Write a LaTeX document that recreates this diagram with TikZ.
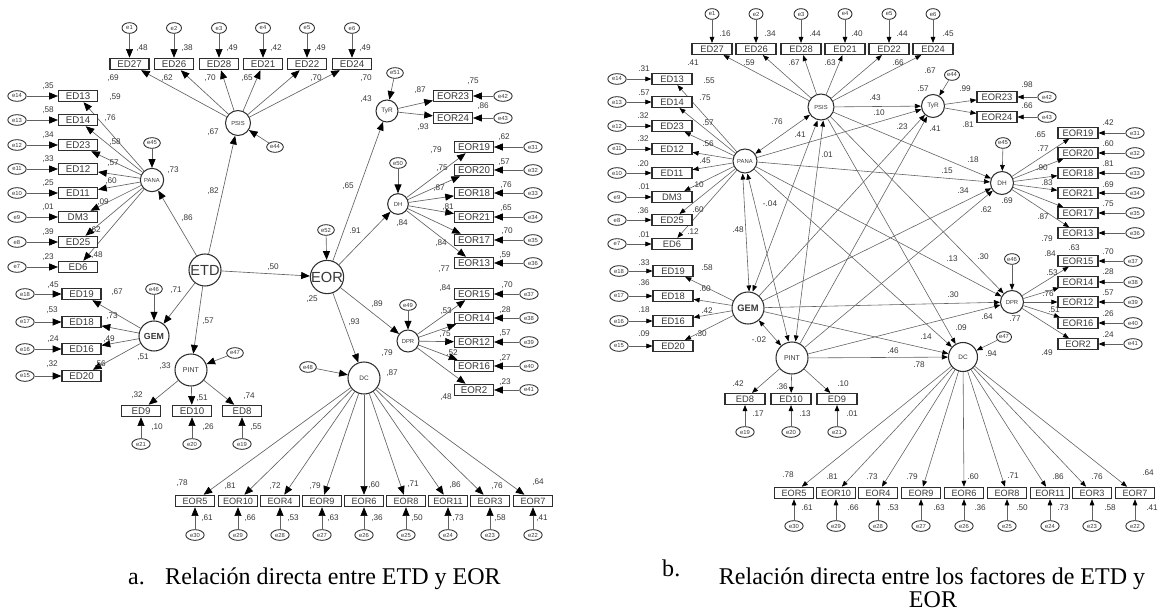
\documentclass[tikz,border=0pt]{standalone}
\usepackage{fontspec}
\setmainfont{Liberation Sans}
\newfontfamily\capfont{Liberation Serif}
\usetikzlibrary{shapes.geometric,arrows.meta}
\pgfdeclarelayer{bg}
\pgfsetlayers{bg,main}
\definecolor{lc}{gray}{0.38}
\definecolor{bc}{gray}{0.18}
\definecolor{tc}{gray}{0.22}
\tikzset{
 obs/.style={draw=bc, line width=1pt, fill=white, minimum width=1.17cm, minimum height=0.34cm, inner sep=0pt, text=tc, font=\fontsize{8.3}{9}\selectfont},
 obsb/.style={obs, minimum width=1.2cm, minimum height=0.33cm, font=\fontsize{8}{9}\selectfont},
 errn/.style={ellipse, draw=bc, line width=0.75pt, fill=white, minimum width=0.5cm, minimum height=0.32cm, inner sep=0pt, text=tc, font=\fontsize{5}{6}\selectfont},
 latn/.style={circle, draw=bc, line width=0.9pt, fill=white, inner sep=0pt, text=tc},
 lab/.style={text=tc, font=\fontsize{7}{8}\selectfont, inner sep=0pt},
 capt/.style={font=\capfont\fontsize{20.5}{24}\selectfont, inner sep=0pt, text=black},
 arrA/.style={draw=lc, line width=0.55pt, -{Triangle[length=0.26cm,width=0.21cm,color=black]}},
 arrB/.style={draw=lc, line width=0.5pt, -{Triangle[length=0.18cm,width=0.14cm,color=black]}},
 covB/.style={draw=lc, line width=0.5pt, {Triangle[length=0.18cm,width=0.14cm,color=black]}-{Triangle[length=0.18cm,width=0.14cm,color=black]}},
}
\begin{document}
\begin{tikzpicture}[x=0.03cm,y=-0.03cm]
\path[use as bounding box] (0,0) rectangle (1170,616);
% ================= PANEL A =================
\node[latn, minimum size=0.75cm, font=\fontsize{5}{6}\selectfont] (aPSIS) at (238,123) {PSIS};
\node[latn, minimum size=0.7cm, font=\fontsize{5}{6}\selectfont] (aPANA) at (152,180) {PANA};
\node[latn, minimum size=0.96cm, font=\fontsize{12.5}{13}\selectfont] (aETD) at (205,270) {ETD};
\node[latn, minimum size=0.9cm, font=\bfseries\fontsize{7.5}{8}\selectfont] (aGEM) at (154,336) {GEM};
\node[latn, minimum size=0.96cm, font=\fontsize{6}{7}\selectfont] (aPINT) at (191,370) {PINT};
\node[latn, minimum size=0.96cm, font=\fontsize{12.5}{13}\selectfont] (aEOR) at (327,277) {EOR};
\node[latn, minimum size=0.66cm, font=\fontsize{5.5}{6}\selectfont] (aTyR) at (387,111) {TyR};
\node[latn, minimum size=0.62cm, font=\fontsize{5}{6}\selectfont] (aDH) at (398,204) {DH};
\node[latn, minimum size=0.66cm, font=\fontsize{5}{6}\selectfont] (aDPR) at (408,341) {DPR};
\node[latn, minimum size=0.96cm, font=\fontsize{5.5}{6}\selectfont] (aDC) at (364,378) {DC};
\foreach \ee/\xx/\yy/\tg in {e44/275/147/PSIS, e45/152/143/PANA, e46/154/289/GEM, e47/235/353/PINT, e48/308/367/DC, e49/408/305/DPR, e50/398/163/DH, e51/395/73/TyR, e52/326/230/EOR} {
  \node[errn] (a\ee) at (\xx,\yy) {\ee};
  \begin{pgfonlayer}{bg}\draw[arrA] (a\ee) -- (a\tg);\end{pgfonlayer}
}
\begin{pgfonlayer}{bg}
\foreach \tg in {PSIS, PANA, GEM, PINT, EOR} \draw[arrA] (aETD) -- (a\tg);
\foreach \tg in {TyR, DH, DPR, DC} \draw[arrA] (aEOR) -- (a\tg);
\end{pgfonlayer}
% indicators
\foreach \nm/\xx/\ee in {ED27/129.5/e1, ED26/174/e2, ED28/219/e3, ED21/263/e4, ED22/307/e5, ED24/352/e6} {
  \node[obs] (a\nm) at (\xx,64) {\nm};
  \node[errn, minimum width=0.45cm] (a\ee) at (\xx,28) {\ee};
  \begin{pgfonlayer}{bg}\draw[arrA] (a\ee) -- (a\nm); \draw[arrA] (aPSIS) -- (a\nm);\end{pgfonlayer}
}
\foreach \nm/\yy/\ee in {ED13/96/e14, ED14/120/e13, ED23/145/e12, ED12/169/e11, ED11/193/e10, DM3/217/e9, ED25/242/e8, ED6/267/e7} {
  \node[obs] (a\nm) at (78,\yy) {\nm};
  \node[errn, minimum width=0.55cm] (a\ee) at (17,\yy) {\ee};
  \begin{pgfonlayer}{bg}\draw[arrA] (a\ee) -- (a\nm); \draw[arrA] (aPANA) -- (a\nm);\end{pgfonlayer}
}
\foreach \nm/\yy/\ee in {ED19/294/e18, ED18/322/e17, ED16/349/e16, ED20/376/e15} {
  \node[obs] (a\nm) at (81.5,\yy) {\nm};
  \node[errn, minimum width=0.55cm] (a\ee) at (25,\yy) {\ee};
  \begin{pgfonlayer}{bg}\draw[arrA] (a\ee) -- (a\nm); \draw[arrA] (aGEM) -- (a\nm);\end{pgfonlayer}
}
\foreach \nm/\xx/\ee in {ED9/141/e21, ED10/192/e20, ED8/242/e19} {
  \node[obs] (a\nm) at (\xx,411) {\nm};
  \node[errn, minimum width=0.55cm] (a\ee) at (\xx,444) {\ee};
  \begin{pgfonlayer}{bg}\draw[arrA] (a\ee) -- (a\nm); \draw[arrA] (aPINT) -- (a\nm);\end{pgfonlayer}
}
\foreach \nm/\yy/\ee in {EOR23/96/e42, EOR24/118/e43} {
  \node[obs] (a\nm) at (453,\yy) {\nm};
  \node[errn, minimum width=0.55cm] (a\ee) at (503,\yy) {\ee};
  \begin{pgfonlayer}{bg}\draw[arrA] (a\ee) -- (a\nm); \draw[arrA] (aTyR) -- (a\nm);\end{pgfonlayer}
}
\foreach \nm/\yy/\ee in {EOR19/147/e31, EOR20/170/e32, EOR18/193/e33, EOR21/217/e34, EOR17/240/e35, EOR13/263/e36} {
  \node[obs] (a\nm) at (474,\yy) {\nm};
  \node[errn, minimum width=0.55cm] (a\ee) at (533,\yy) {\ee};
  \begin{pgfonlayer}{bg}\draw[arrA] (a\ee) -- (a\nm); \draw[arrA] (aDH) -- (a\nm);\end{pgfonlayer}
}
\foreach \nm/\yy/\ee in {EOR15/294/e37, EOR14/318/e38, EOR12/342/e39, EOR16/366/e40, EOR2/390/e41} {
  \node[obs] (a\nm) at (474,\yy) {\nm};
  \node[errn, minimum width=0.55cm] (a\ee) at (529,\yy) {\ee};
  \begin{pgfonlayer}{bg}\draw[arrA] (a\ee) -- (a\nm); \draw[arrA] (aDPR) -- (a\nm);\end{pgfonlayer}
}
\foreach \nm/\xx/\ee in {EOR5/195/e30, EOR10/238/e29, EOR4/280/e28, EOR9/322/e27, EOR6/364/e26, EOR8/406/e25, EOR11/448/e24, EOR3/490/e23, EOR7/533/e22} {
  \node[obs, font=\fontsize{7.8}{9}\selectfont] (a\nm) at (\xx,501) {\nm};
  \node[errn, minimum width=0.55cm] (a\ee) at (\xx,535) {\ee};
  \begin{pgfonlayer}{bg}\draw[arrA] (a\ee) -- (a\nm); \draw[arrA] (aDC) -- (a\nm);\end{pgfonlayer}
}
% labels panel A
\foreach \xx/\yy/\lb [count=\i] in {142/48/48, 187/48/38, 232/48/49, 276/48/42, 320/48/49, 365/48/49,
 113/78/69, 167/78/62, 210/78/70, 247/78/65, 316/78/70, 366/78/70, 213/132/67,
 48/86/35, 48/110/58, 48/135/34, 48/159/33, 48/183/25, 48/207/01, 48/232/39, 48/257/23,
 115/97/59, 110/118/76, 115/142/58, 113/163/57, 111/181/60, 103/202/09, 95/230/62, 97/255/48, 173/170/73,
 187/218/86, 213/191/82, 273/267/50,
 53/285/45, 52/310/53, 53/339/24, 52/364/32, 117/292/67, 112/316/73, 109/339/49, 100/364/56, 143/357/51, 176/290/71,
 208/321/57, 165/366/33, 137/395/32, 202/398/51, 249/396/74, 157/427/10, 208/427/26, 256/427/55,
 366/99/43, 420/90/87, 473/81/75, 483/106/86, 423/127/93, 348/186/65,
 402/223/84, 436/150/79, 442/168/75, 439/188/87, 448/207/81, 441/243/84, 444/269/77,
 504/137/62, 504/162/57, 506/185/76, 506/208/65, 507/231/70, 505/255/59, 312/299/25,
 377/304/89, 387/353/79, 445/288/84, 446/311/53, 445/334/75, 452/353/52, 446/397/48,
 507/285/70, 505/310/28, 505/333/57, 505/358/27, 505/382/23, 354/322/93, 392/373/87,
 182/483/78, 230/486/81, 275/486/72, 315/486/79, 374/485/60, 413/484/71, 455/485/86, 497/486/76, 538/482/64,
 207/518/61, 250/518/66, 293/518/53, 333/518/63, 377/518/36, 417/518/50, 458/518/73, 500/518/58, 542/518/41}
 \node[lab] (aL\i) at (\xx,\yy) {,\lb};
\node[lab] (aL91) at (355,231) {.91};
% caption a
\node[capt, anchor=base west] (capa1) at (128,584) {a.};
\node[capt, anchor=base west] (capa2) at (165,584) {Relación directa entre ETD y EOR};
% ================= PANEL B =================
\node[latn, minimum size=0.78cm, font=\fontsize{5}{6}\selectfont] (bPSIS) at (821,107) {PSIS};
\node[latn, minimum size=0.72cm, font=\fontsize{5}{6}\selectfont] (bPANA) at (745,161) {PANA};
\node[latn, minimum size=0.96cm, font=\bfseries\fontsize{8}{9}\selectfont] (bGEM) at (748,308) {GEM};
\node[latn, minimum size=0.96cm, font=\fontsize{6}{7}\selectfont] (bPINT) at (792,358) {PINT};
\node[latn, minimum size=0.69cm, font=\fontsize{5.5}{6}\selectfont] (bTyR) at (933,106) {TyR};
\node[latn, minimum size=0.69cm, font=\fontsize{5.5}{6}\selectfont] (bDH) at (1002,183) {DH};
\node[latn, minimum size=0.69cm, font=\fontsize{5}{6}\selectfont] (bDPR) at (1012,302) {DPR};
\node[latn, minimum size=0.87cm, font=\fontsize{5.5}{6}\selectfont] (bDC) at (963,357) {DC};
\foreach \ee/\xx/\yy/\tg in {e44/952/75/TyR, e45/1003/143/DH, e46/1012/259/DPR, e47/1004/337/DC} {
  \node[errn, minimum width=0.45cm] (b\ee) at (\xx,\yy) {\ee};
  \begin{pgfonlayer}{bg}\draw[arrB] (b\ee) -- (b\tg);\end{pgfonlayer}
}
\begin{pgfonlayer}{bg}
\foreach \sr in {PSIS, PANA, GEM, PINT} {
  \foreach \tg in {TyR, DH, DPR, DC} \draw[arrB] (b\sr) -- (b\tg);
}
\draw[covB] (bPANA) -- (bPSIS);
\draw[covB] ([xshift=-2pt]bPANA.south) -- ([xshift=1pt]bGEM.north);
\draw[covB] ([xshift=2pt]bPANA.south) -- ([xshift=-3pt]bPINT.north);
\draw[covB] ([xshift=-3pt]bPSIS.south) -- ([xshift=4pt]bGEM.north);
\draw[covB] ([xshift=2pt]bPSIS.south) -- ([xshift=3pt]bPINT.north);
\draw[covB] (bGEM) -- (bPINT);
\end{pgfonlayer}
\foreach \nm/\xx/\ee in {ED27/712/e1, ED26/756/e2, ED28/801/e3, ED21/845/e4, ED22/889/e5, ED24/933/e6} {
  \node[obsb] (b\nm) at (\xx,49) {\nm};
  \node[errn, minimum width=0.42cm] (b\ee) at (\xx,14) {\ee};
  \begin{pgfonlayer}{bg}\draw[arrB] (b\ee) -- (b\nm); \draw[arrB] (bPSIS) -- (b\nm);\end{pgfonlayer}
}
\foreach \nm/\yy/\ee in {ED13/79/e14, ED14/102/e13, ED23/126/e12, ED12/149/e11, ED11/173/e10, DM3/197/e9, ED25/220/e8, ED6/244/e7} {
  \node[obsb] (b\nm) at (672,\yy) {\nm};
  \node[errn, minimum width=0.55cm] (b\ee) at (617,\yy) {\ee};
  \begin{pgfonlayer}{bg}\draw[arrB] (b\ee) -- (b\nm); \draw[arrB] (bPANA) -- (b\nm);\end{pgfonlayer}
}
\foreach \nm/\yy/\ee in {ED19/271/e18, ED18/296/e17, ED16/321/e16, ED20/346/e15} {
  \node[obsb] (b\nm) at (673,\yy) {\nm};
  \node[errn, minimum width=0.55cm] (b\ee) at (619,\yy) {\ee};
  \begin{pgfonlayer}{bg}\draw[arrB] (b\ee) -- (b\nm); \draw[arrB] (bGEM) -- (b\nm);\end{pgfonlayer}
}
\foreach \nm/\xx/\ee in {ED8/745/e19, ED10/791/e20, ED9/837/e21} {
  \node[obsb] (b\nm) at (\xx,399) {\nm};
  \node[errn, minimum width=0.55cm] (b\ee) at (\xx,432) {\ee};
  \begin{pgfonlayer}{bg}\draw[arrB] (b\ee) -- (b\nm); \draw[arrB] (bPINT) -- (b\nm);\end{pgfonlayer}
}
\foreach \nm/\yy/\ee in {EOR23/97/e42, EOR24/117/e43} {
  \node[obsb] (b\nm) at (997,\yy) {\nm};
  \node[errn, minimum width=0.55cm] (b\ee) at (1047,\yy) {\ee};
  \begin{pgfonlayer}{bg}\draw[arrB] (b\ee) -- (b\nm); \draw[arrB] (bTyR) -- (b\nm);\end{pgfonlayer}
}
\foreach \nm/\yy/\ee in {EOR19/133/e31, EOR20/153/e32, EOR18/173/e33, EOR21/193/e34, EOR17/213/e35, EOR13/233/e36} {
  \node[obsb, minimum height=0.31cm] (b\nm) at (1078,\yy) {\nm};
  \node[errn, minimum width=0.55cm] (b\ee) at (1135,\yy) {\ee};
  \begin{pgfonlayer}{bg}\draw[arrB] (b\ee) -- (b\nm); \draw[arrB] (bDH) -- (b\nm);\end{pgfonlayer}
}
\foreach \nm/\yy/\ee in {EOR15/261/e37, EOR14/282/e38, EOR12/302/e39, EOR16/323/e40, EOR2/344/e41} {
  \node[obsb, minimum height=0.31cm] (b\nm) at (1078,\yy) {\nm};
  \node[errn, minimum width=0.55cm] (b\ee) at (1133,\yy) {\ee};
  \begin{pgfonlayer}{bg}\draw[arrB] (b\ee) -- (b\nm); \draw[arrB] (bDPR) -- (b\nm);\end{pgfonlayer}
}
\foreach \nm/\xx/\ee in {EOR5/794/e30, EOR10/836/e29, EOR4/878/e28, EOR9/921/e27, EOR6/964/e26, EOR8/1007/e25, EOR11/1050/e24, EOR3/1092/e23, EOR7/1135/e22} {
  \node[obs, font=\fontsize{7.8}{9}\selectfont] (b\nm) at (\xx,493) {\nm};
  \node[errn, minimum width=0.55cm] (b\ee) at (\xx,526) {\ee};
  \begin{pgfonlayer}{bg}\draw[arrB] (b\ee) -- (b\nm); \draw[arrB] (bDC) -- (b\nm);\end{pgfonlayer}
}
% labels panel B
\foreach \xx/\yy/\lb [count=\i] in {725/34/16, 770/34/34, 815/34/44, 857/34/40, 902/34/44, 948/34/45,
 693/63/41, 749/63/59, 794/63/67, 830/63/63, 898/63/66, 930/71/67,
 644/69/31, 644/93/57, 643/116/32, 643/139/32, 643/164/20, 644/187/01, 643/211/36, 644/235/01,
 709/81/55, 705/98/75, 708/123/57, 708/144/56, 705/161/45, 698/185/10, 698/210/60, 693/232/12,
 644/263/33, 644/283/36, 644/310/18, 644/334/09, 707/268/58, 705/289/60, 707/311/42, 701/334/30,
 738/384/42, 782/387/36, 843/384/10, 758/414/17, 805/414/13, 852/414/01,
 777/122/76, 800/135/41, 827/155/01, 738/230/48,
 923/89/57, 875/98/43, 879/113/10, 902/127/23, 935/129/41, 965/89/99, 1027/85/98, 1027/106/66, 968/125/81,
 1007/201/69, 973/160/18, 947/171/15, 963/191/34, 986/210/62,
 1108/123/42, 1108/144/60, 1108/164/81, 1108/185/69, 1108/204/75,
 1040/135/65, 1043/149/77, 1042/168/90, 1047/183/83, 1043/217/87, 1047/239/79,
 1015/319/77, 952/259/13, 983/257/30, 953/295/30, 987/317/64,
 1074/248/63, 1108/252/70, 1050/254/84, 1052/273/53, 1108/272/28, 1048/294/76, 1108/293/57, 1054/310/51, 1108/314/26, 1108/335/24, 1047/353/49,
 991/354/94, 961/328/09, 926/337/14, 893/351/46, 919/365/78,
 788/475/78, 832/477/81, 872/477/73, 912/477/79, 973/477/60, 1013/476/71, 1058/477/86, 1097/477/76, 1148/473/64,
 807/508/61, 853/508/66, 893/508/53, 939/508/63, 980/508/36, 1022/508/50, 1063/508/73, 1110/508/58, 1152/508/41}
 \node[lab] (bL\i) at (\xx,\yy) {.\lb};
\node[lab] (bLm1) at (770,204) {-.04};
\node[lab] (bLm2) at (759,340) {-.02};
% caption b
\node[capt, anchor=base west] (capb1) at (662,576) {b.};
\node[capt, anchor=base] (capb2) at (932,584) {Relación directa entre los factores de ETD y};
\node[capt, anchor=base] (capb3) at (933,607) {EOR};
\end{tikzpicture}
\end{document}
